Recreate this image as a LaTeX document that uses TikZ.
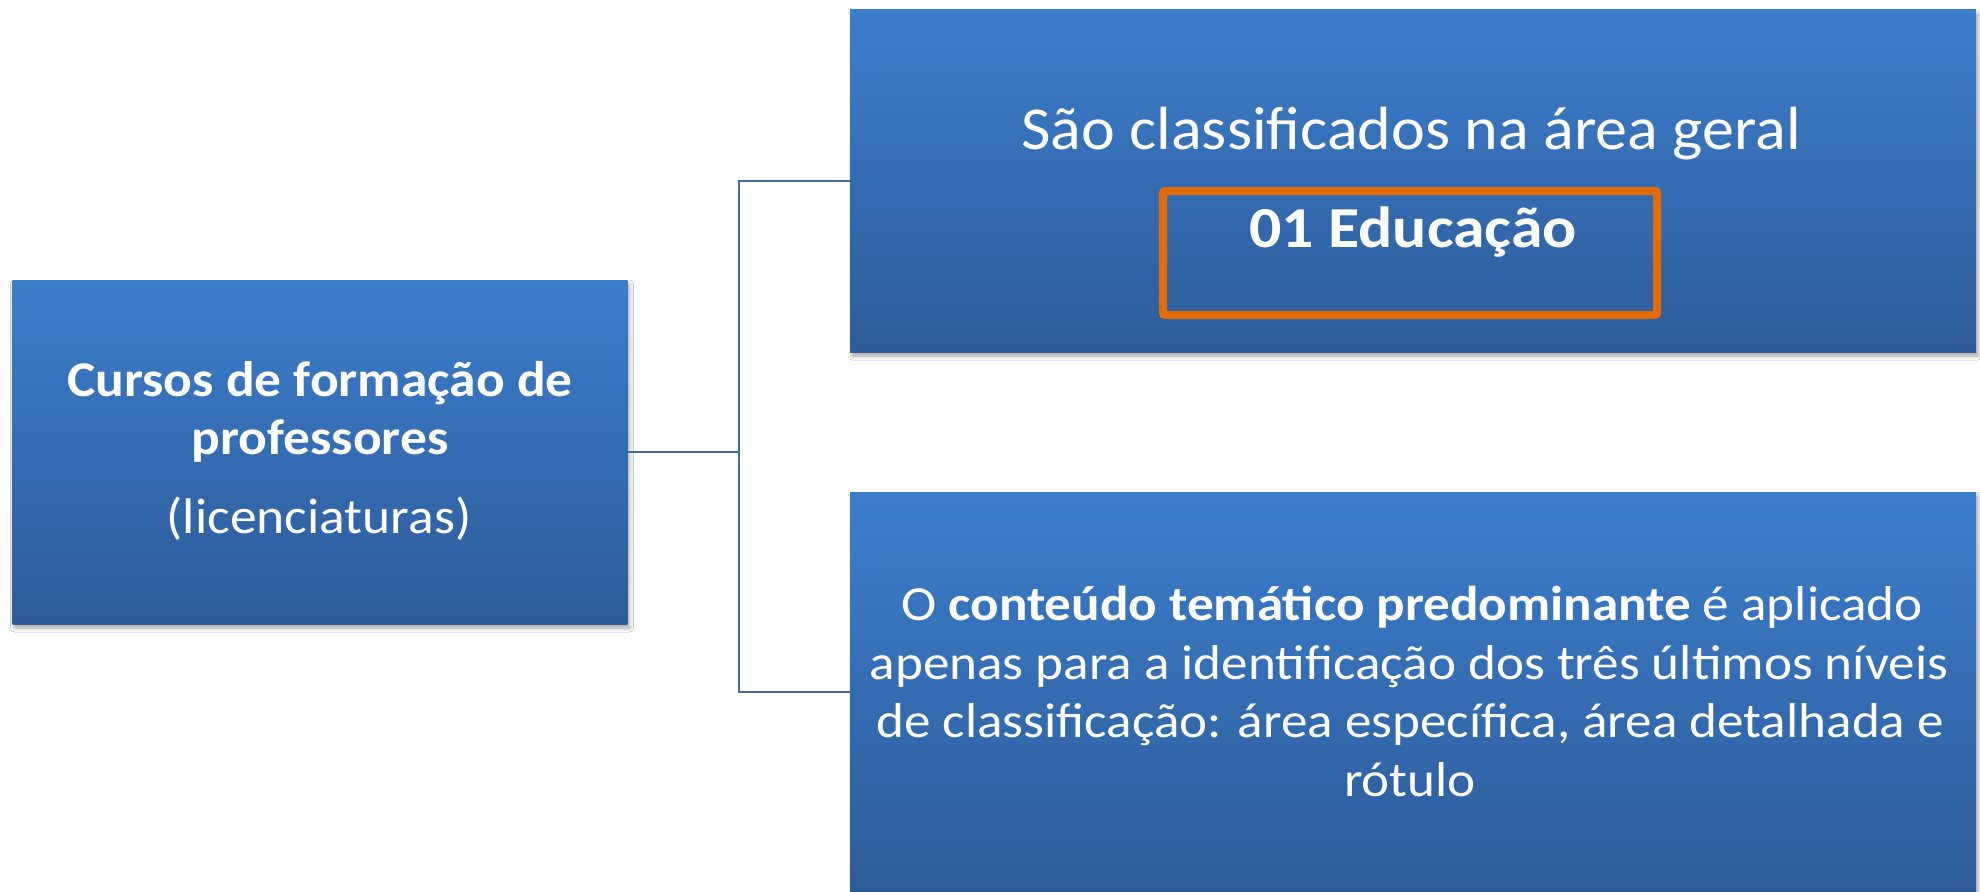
\documentclass[tikz,border=0pt]{standalone}
\usepackage{fontspec}
\setmainfont{Carlito}
\usetikzlibrary{shadows,shadows.blur}
\definecolor{btop}{RGB}{60,126,204}
\definecolor{bbot}{RGB}{45,91,152}
\definecolor{connc}{RGB}{68,108,163}
\definecolor{orng}{RGB}{226,107,10}
\newcommand{\wide}[2]{\scalebox{#1}[1]{#2}}
\begin{document}
\begin{tikzpicture}[x=1pt,y=-1pt,
  box/.style={rectangle, draw=none, top color=btop, bottom color=bbot, inner sep=0pt,
    blur shadow={shadow xshift=2pt, shadow yshift=-4pt, shadow blur steps=6, shadow opacity=35, shadow blur radius=4pt}},
  txt/.style={text=white, inner sep=0pt, anchor=base},
  link/.style={draw=connc, line width=2pt}]
\useasboundingbox (0,0) rectangle (1980,891);
\fill[white] (0,0) rectangle (1980,891);
\node[box, minimum width=615pt, minimum height=344pt] (left) at (320,452) {};
\node[box, minimum width=1126pt, minimum height=342pt] (top) at (1413,181) {};
\node[box, minimum width=1126pt, minimum height=399pt] (bot) at (1413,691.5) {};
\node[draw=orng, line width=8pt, rounded corners=2pt, minimum width=494pt, minimum height=124pt, inner sep=0pt] (edu) at (1410,253) {};
% texts
\node[txt, font=\fontsize{50}{58}\selectfont] (l1) at (320,396) {\wide{1.07}{\textbf{Cursos de formação de}}};
\node[txt, font=\fontsize{50}{58}\selectfont] (l2) at (320,454) {\wide{1.07}{\textbf{professores}}};
\node[txt, font=\fontsize{50}{58}\selectfont] (l3) at (319,533) {\wide{1.07}{(licenciaturas)}};
\node[txt, font=\fontsize{61}{70}\selectfont] (t1) at (1411,149) {\wide{1.05}{São classificados na área geral}};
\node[txt, font=\fontsize{58}{70}\selectfont] (t2) at (1413,247) {\wide{1.10}{\textbf{01 Educação}}};
\node[txt, font=\fontsize{49}{58}\selectfont] (b1) at (1412,620) {\wide{1.085}{O \textbf{conteúdo temático predominante} é aplicado}};
\node[txt, font=\fontsize{49}{58}\selectfont] (b2) at (1409,679) {\wide{1.085}{apenas para a identificação dos três últimos níveis}};
\node[txt, font=\fontsize{49}{58}\selectfont] (b3) at (1410,737) {\wide{1.085}{de classificação: área específica, área detalhada e}};
\node[txt, font=\fontsize{49}{58}\selectfont] (b4) at (1410,796) {\wide{1.085}{rótulo}};
% connectors
\coordinate (j) at (739,452);
\draw[link] (left.east) -- (j) |- (top.west);
\draw[link] (j) |- (bot.west);
\end{tikzpicture}
\end{document}
